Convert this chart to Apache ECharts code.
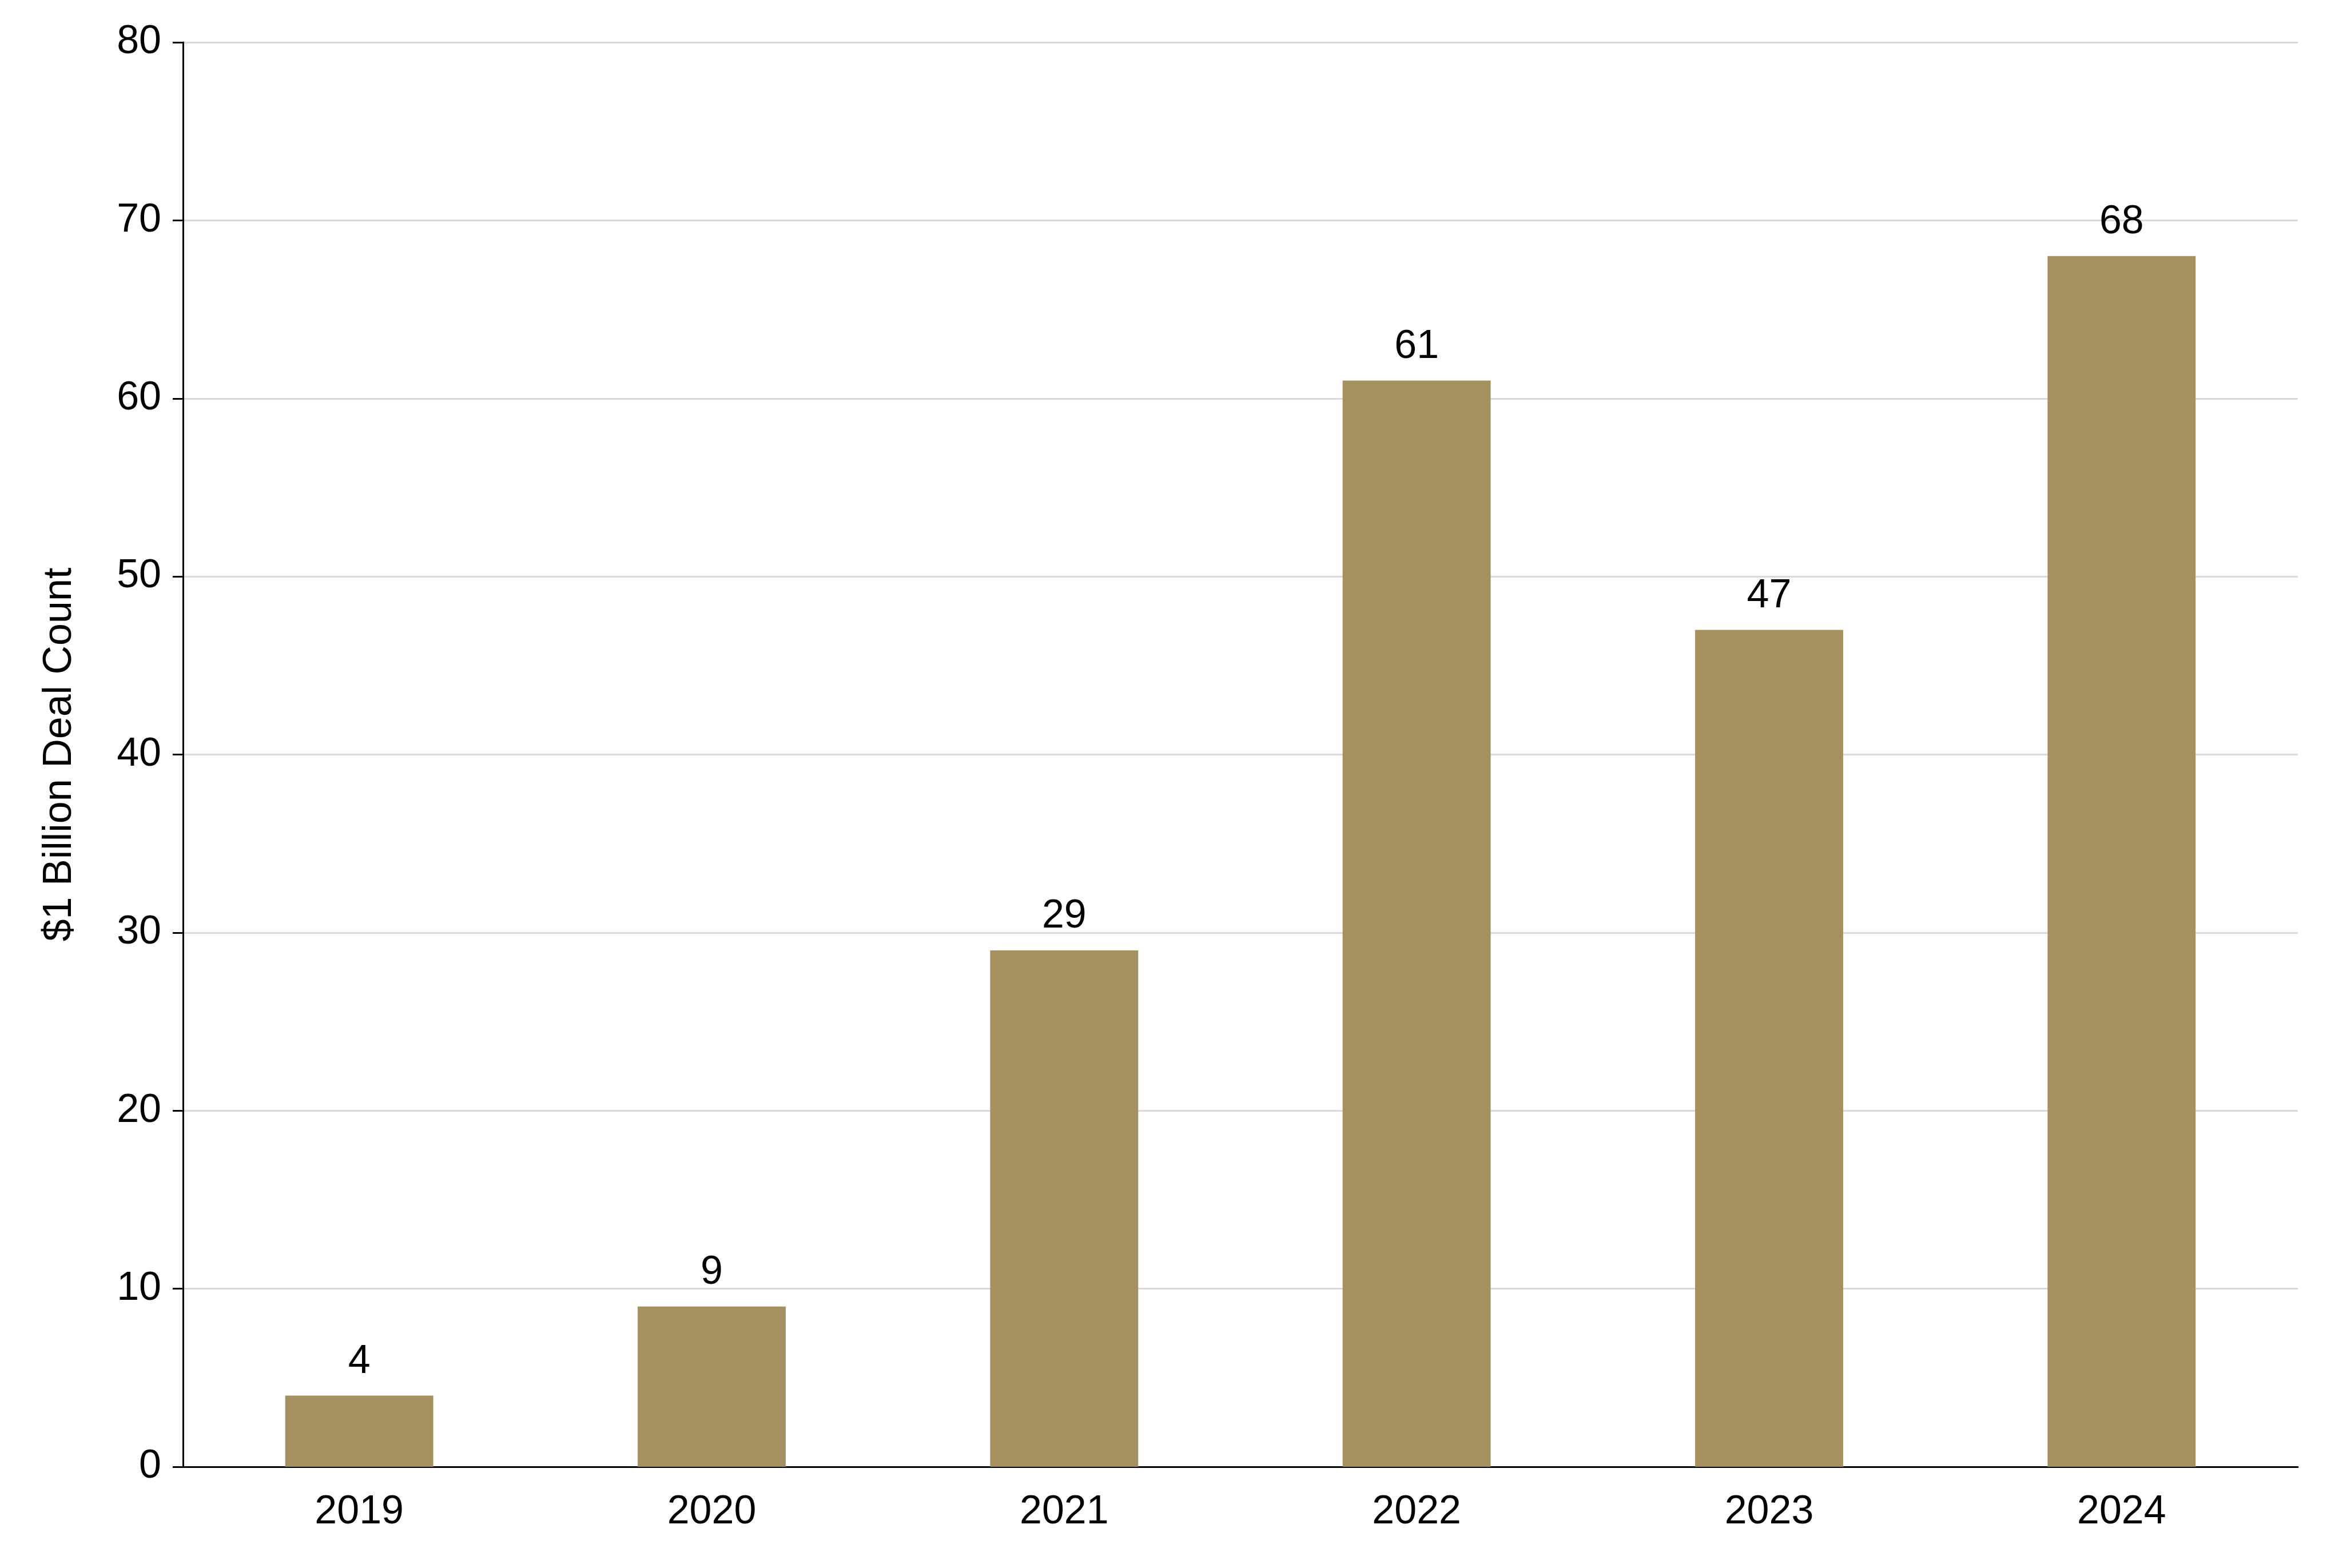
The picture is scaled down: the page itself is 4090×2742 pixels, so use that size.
<!DOCTYPE html>
<html><head><meta charset="utf-8">
<script src="https://cdn.jsdelivr.net/npm/echarts@6/dist/echarts.min.js"></script>
<style>html,body{margin:0;padding:0;background:#fff}#c{width:4090px;height:2742px}</style>
</head><body><div id="c"></div>
<script>
const years = ['2019', '2020', '2021', '2022', '2023', '2024'];
const dealCounts = [4, 9, 29, 61, 47, 68];
const yTicks = [0, 80, 10];

const chart = echarts.init(document.getElementById('c'));
const font = 'Liberation Sans, Arial, sans-serif';
chart.setOption({
  animation: false,
  grid: { left: 320, right: 72, top: 74, bottom: 145 + 32 },
  xAxis: {
    type: 'category',
    data: years,
    axisLine: { lineStyle: { color: '#000', width: 3 } },
    axisTick: { show: false },
    axisLabel: { color: '#000', fontSize: 70, fontFamily: font, margin: 45 }
  },
  yAxis: {
    type: 'value',
    min: yTicks[0], max: yTicks[1], interval: yTicks[2],
    name: '$1 Billion Deal Count',
    nameLocation: 'middle', nameGap: 180,
    nameTextStyle: { color: '#000', fontSize: 70, fontFamily: font },
    axisLine: { show: true, lineStyle: { color: '#000', width: 3 } },
    axisTick: { show: true, length: 18, lineStyle: { color: '#000', width: 3 } },
    axisLabel: { color: '#000', fontSize: 70, fontFamily: font, margin: 38 },
    splitLine: { lineStyle: { color: '#d9d9d9', width: 3 } }
  },
  series: [{
    type: 'bar',
    data: dealCounts,
    barWidth: '42%',
    itemStyle: { color: '#A59060' },
    label: { show: true, position: 'top', distance: 24, color: '#000', fontSize: 70, fontFamily: font }
  }]
});
</script></body></html>
